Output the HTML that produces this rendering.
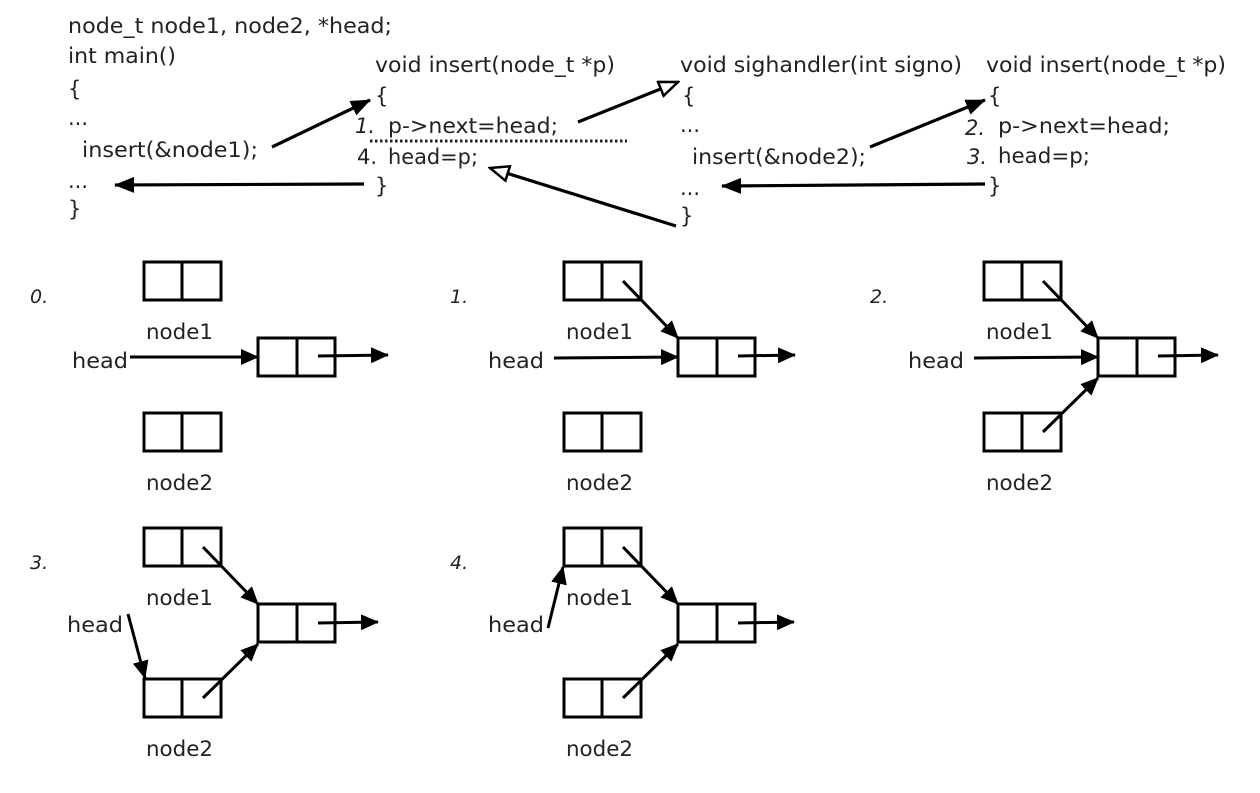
<!DOCTYPE html>
<html><head><meta charset="utf-8"><style>
html,body{margin:0;padding:0;background:#fff;}
svg text{font-family:"DejaVu Sans","Liberation Sans",sans-serif;fill:#222;}
</style></head><body>
<svg width="1260" height="788" viewBox="0 0 1260 788" xmlns="http://www.w3.org/2000/svg">
<defs>
<marker id="fb" markerWidth="20" markerHeight="16" refX="19" refY="8" orient="auto" markerUnits="userSpaceOnUse" viewBox="0 0 20 16">
<path d="M0,0 L20,8 L0,16 z" fill="#000"/></marker>
<marker id="fs" markerWidth="18" markerHeight="16" refX="17" refY="8" orient="auto" markerUnits="userSpaceOnUse" viewBox="0 0 18 16">
<path d="M0,0 L18,8 L0,16 z" fill="#000"/></marker>
<marker id="h" markerWidth="22" markerHeight="18" refX="20" refY="9" orient="auto" markerUnits="userSpaceOnUse" viewBox="0 0 22 18">
<path d="M1.5,1.5 L20,9 L1.5,16.5 z" fill="#fff" stroke="#000" stroke-width="2.5"/></marker>
</defs>
<g font-size="21">
<text x="68" y="33" textLength="324" lengthAdjust="spacingAndGlyphs">node_t node1, node2, *head;</text>
<text x="68" y="63" textLength="108" lengthAdjust="spacingAndGlyphs">int main()</text>
<text x="68" y="96">{</text>
<text x="68" y="125">...</text>
<text x="82" y="157" textLength="176" lengthAdjust="spacingAndGlyphs">insert(&amp;node1);</text>
<text x="68" y="188">...</text>
<text x="68" y="216">}</text>

<text x="375" y="72" textLength="240" lengthAdjust="spacingAndGlyphs">void insert(node_t *p)</text>
<text x="375" y="103">{</text>
<text x="355" y="133" font-style="italic">1.</text>
<text x="388" y="133" textLength="170" lengthAdjust="spacingAndGlyphs">p-&gt;next=head;</text>
<text x="357" y="164">4.</text>
<text x="388" y="164" textLength="90" lengthAdjust="spacingAndGlyphs">head=p;</text>
<text x="375" y="193">}</text>

<text x="680" y="72" textLength="282" lengthAdjust="spacingAndGlyphs">void sighandler(int signo)</text>
<text x="682" y="103">{</text>
<text x="680" y="132">...</text>
<text x="692" y="164" textLength="174" lengthAdjust="spacingAndGlyphs">insert(&amp;node2);</text>
<text x="680" y="195">...</text>
<text x="680" y="223">}</text>

<text x="986" y="72" textLength="240" lengthAdjust="spacingAndGlyphs">void insert(node_t *p)</text>
<text x="988" y="103">{</text>
<text x="965" y="135" font-style="italic">2.</text>
<text x="998" y="133" textLength="172" lengthAdjust="spacingAndGlyphs">p-&gt;next=head;</text>
<text x="967" y="164" font-style="italic">3.</text>
<text x="998" y="163" textLength="92" lengthAdjust="spacingAndGlyphs">head=p;</text>
<text x="988" y="193">}</text>
</g>
<line x1="370" y1="141" x2="627" y2="141" stroke="#222" stroke-width="3" stroke-dasharray="2.5,2.5"/>
<g stroke="#000" stroke-width="3.2" fill="none">
<line x1="272" y1="147" x2="370" y2="100" marker-end="url(#fb)"/>
<line x1="364" y1="184" x2="115" y2="185" marker-end="url(#fb)"/>
<line x1="578" y1="122" x2="678" y2="82" marker-end="url(#h)"/>
<line x1="676" y1="226" x2="490" y2="168" marker-end="url(#h)"/>
<line x1="870" y1="147" x2="985" y2="100" marker-end="url(#fb)"/>
<line x1="985" y1="184" x2="722" y2="186" marker-end="url(#fb)"/>
</g>

<g>
<text x="30" y="303" font-size="19" font-style="italic">0.</text>
<g stroke="#000" stroke-width="3" fill="none">
<rect x="144" y="262" width="77" height="38"/><line x1="182" y1="262" x2="182" y2="300"/>
<rect x="258" y="338" width="77" height="38"/><line x1="297" y1="338" x2="297" y2="376"/>
<rect x="144" y="413" width="77" height="38"/><line x1="182" y1="413" x2="182" y2="451"/>
<line x1="318" y1="356" x2="388" y2="355" marker-end="url(#fs)"/>
<line x1="130" y1="357" x2="258" y2="357" marker-end="url(#fs)"/>
</g>
<text x="146" y="339" font-size="21" textLength="67" lengthAdjust="spacingAndGlyphs">node1</text>
<text x="146" y="490" font-size="21" textLength="67" lengthAdjust="spacingAndGlyphs">node2</text>
<text x="72" y="368" font-size="21" textLength="56" lengthAdjust="spacingAndGlyphs">head</text>
</g>

<g transform="translate(420,0)">
<text x="30" y="303" font-size="19" font-style="italic">1.</text>
<g stroke="#000" stroke-width="3" fill="none">
<rect x="144" y="262" width="77" height="38"/><line x1="182" y1="262" x2="182" y2="300"/>
<rect x="258" y="338" width="77" height="38"/><line x1="297" y1="338" x2="297" y2="376"/>
<rect x="144" y="413" width="77" height="38"/><line x1="182" y1="413" x2="182" y2="451"/>
<line x1="318" y1="356" x2="375" y2="355" marker-end="url(#fs)"/>
<line x1="134" y1="358" x2="258" y2="357" marker-end="url(#fs)"/>
<line x1="203" y1="281" x2="258" y2="338" marker-end="url(#fs)"/>
</g>
<text x="146" y="339" font-size="21" textLength="67" lengthAdjust="spacingAndGlyphs">node1</text>
<text x="146" y="490" font-size="21" textLength="67" lengthAdjust="spacingAndGlyphs">node2</text>
<text x="68" y="368" font-size="21" textLength="56" lengthAdjust="spacingAndGlyphs">head</text>
</g>

<g transform="translate(840,0)">
<text x="30" y="303" font-size="19" font-style="italic">2.</text>
<g stroke="#000" stroke-width="3" fill="none">
<rect x="144" y="262" width="77" height="38"/><line x1="182" y1="262" x2="182" y2="300"/>
<rect x="258" y="338" width="77" height="38"/><line x1="297" y1="338" x2="297" y2="376"/>
<rect x="144" y="413" width="77" height="38"/><line x1="182" y1="413" x2="182" y2="451"/>
<line x1="318" y1="356" x2="378" y2="355" marker-end="url(#fs)"/>
<line x1="134" y1="358" x2="258" y2="357" marker-end="url(#fs)"/>
<line x1="203" y1="281" x2="258" y2="338" marker-end="url(#fs)"/>
<line x1="203" y1="432" x2="258" y2="378" marker-end="url(#fs)"/>
</g>
<text x="146" y="339" font-size="21" textLength="67" lengthAdjust="spacingAndGlyphs">node1</text>
<text x="146" y="490" font-size="21" textLength="67" lengthAdjust="spacingAndGlyphs">node2</text>
<text x="68" y="368" font-size="21" textLength="56" lengthAdjust="spacingAndGlyphs">head</text>
</g>

<g transform="translate(0,266)">
<text x="30" y="303" font-size="19" font-style="italic">3.</text>
<g stroke="#000" stroke-width="3" fill="none">
<rect x="144" y="262" width="77" height="38"/><line x1="182" y1="262" x2="182" y2="300"/>
<rect x="258" y="338" width="77" height="38"/><line x1="297" y1="338" x2="297" y2="376"/>
<rect x="144" y="413" width="77" height="38"/><line x1="182" y1="413" x2="182" y2="451"/>
<line x1="318" y1="357" x2="378" y2="356" marker-end="url(#fs)"/>
<line x1="203" y1="281" x2="258" y2="338" marker-end="url(#fs)"/>
<line x1="203" y1="432" x2="258" y2="378" marker-end="url(#fs)"/>
<line x1="128" y1="348" x2="145" y2="412" marker-end="url(#fs)"/>
</g>
<text x="146" y="339" font-size="21" textLength="67" lengthAdjust="spacingAndGlyphs">node1</text>
<text x="146" y="490" font-size="21" textLength="67" lengthAdjust="spacingAndGlyphs">node2</text>
<text x="67" y="366" font-size="21" textLength="56" lengthAdjust="spacingAndGlyphs">head</text>
</g>

<g transform="translate(420,266)">
<text x="30" y="303" font-size="19" font-style="italic">4.</text>
<g stroke="#000" stroke-width="3" fill="none">
<rect x="144" y="262" width="77" height="38"/><line x1="182" y1="262" x2="182" y2="300"/>
<rect x="258" y="338" width="77" height="38"/><line x1="297" y1="338" x2="297" y2="376"/>
<rect x="144" y="413" width="77" height="38"/><line x1="182" y1="413" x2="182" y2="451"/>
<line x1="318" y1="357" x2="374" y2="356" marker-end="url(#fs)"/>
<line x1="203" y1="281" x2="258" y2="338" marker-end="url(#fs)"/>
<line x1="203" y1="432" x2="258" y2="378" marker-end="url(#fs)"/>
<line x1="128" y1="362" x2="143" y2="301" marker-end="url(#fs)"/>
</g>
<text x="146" y="339" font-size="21" textLength="67" lengthAdjust="spacingAndGlyphs">node1</text>
<text x="146" y="490" font-size="21" textLength="67" lengthAdjust="spacingAndGlyphs">node2</text>
<text x="68" y="366" font-size="21" textLength="56" lengthAdjust="spacingAndGlyphs">head</text>
</g>
</svg>
</body></html>
